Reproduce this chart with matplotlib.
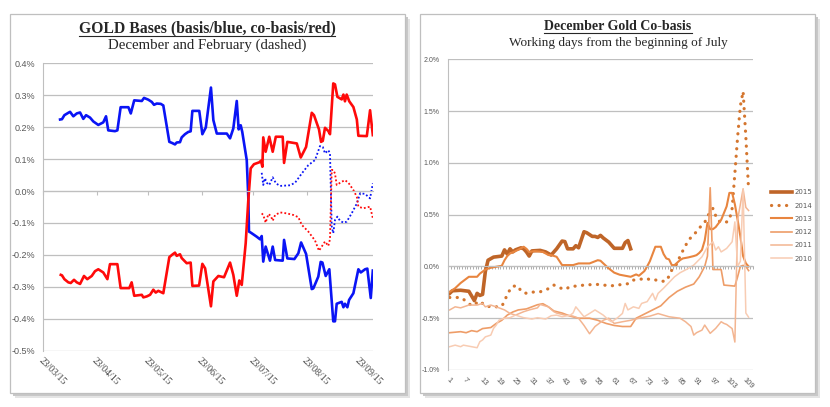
import datetime as dt
import numpy as np
import matplotlib
matplotlib.use('Agg')
import matplotlib.pyplot as plt
import matplotlib.dates as mdates
from matplotlib.ticker import FuncFormatter, MultipleLocator, FixedLocator
from matplotlib.patches import Rectangle
from matplotlib.lines import Line2D

# ---------------- left chart data (days after 23/03/15, values in %) ----------------
start = dt.date(2015, 3, 23)
tick_dates = [dt.date(2015, m, 23) for m in range(3, 10)]

dec_basis_days = [9.7, 10.8, 12.2, 14.5, 15.5, 17.4, 19.4, 21.3, 23.2, 24.8, 27.1, 29.0, 31.9, 34.8,
                  36.4, 37.7, 41.6, 43.0, 44.9, 49.4, 50.8, 52.8, 57.2, 58.5, 61.0, 63.0, 64.3, 65.9,
                  68.2, 69.7, 73.2, 74.6, 76.5, 77.5, 79.4, 80.4, 82.3, 84.2, 85.6, 86.6, 90.6, 92.4,
                  94.4, 97.4, 98.8, 100.8, 106.6, 108.5, 110.4, 112.4, 113.5, 114.7, 115.6, 118.2,
                  119.1, 119.5, 120.5, 124.0, 125.9, 126.9, 127.8, 129.2, 131.7, 133.3, 134.7, 139.1,
                  139.9, 141.8, 145.9, 148.2, 149.8, 152.7, 156.0, 156.9, 159.8, 161.2, 162.2, 164.1,
                  166.2, 168.5, 169.5, 170.5, 173.4, 174.4, 175.3, 176.7, 177.7, 180.2, 183.1, 184.5,
                  187.0, 188.3, 190.3, 191.5]
dec_basis = [0.224, 0.225, 0.2375, 0.245, 0.248, 0.234, 0.243, 0.246, 0.226, 0.2375, 0.230, 0.218,
             0.207, 0.215, 0.234, 0.19, 0.1875, 0.19, 0.2625, 0.2625, 0.243, 0.284, 0.282, 0.2916,
             0.286, 0.279, 0.27, 0.274, 0.273, 0.268, 0.154, 0.151, 0.146, 0.152, 0.153, 0.168,
             0.178, 0.185, 0.187, 0.251, 0.251, 0.178, 0.199, 0.324, 0.222, 0.180, 0.180, 0.165,
             0.196, 0.282, 0.193, 0.206, 0.185, 0.097, -0.018, -0.127, -0.13, -0.143, -0.151,
             -0.141, -0.221, -0.174, -0.218, -0.174, -0.216, -0.218, -0.153, -0.211, -0.213,
             -0.195, -0.161, -0.197, -0.307, -0.305, -0.268, -0.222, -0.224, -0.266, -0.245,
             -0.408, -0.408, -0.353, -0.347, -0.364, -0.353, -0.364, -0.341, -0.320, -0.245,
             -0.255, -0.245, -0.243, -0.335, -0.249]

dec_cobasis_days = [10.1, 10.8, 12.2, 14.5, 15.9, 17.8, 19.4, 21.3, 23.6, 25.5, 28.1, 30.0, 31.9,
                    34.8, 37.2, 38.7, 43.0, 44.9, 49.9, 51.3, 52.8, 57.2, 58.1, 60.1, 62.0, 63.9,
                    65.3, 66.8, 69.7, 73.2, 75.2, 76.5, 77.5, 79.4, 80.4, 83.3, 85.6, 86.6, 90.5,
                    92.4, 94.0, 97.4, 98.8, 101.7, 105.0, 108.5, 110.4, 112.4, 113.9, 115.3, 117.6,
                    119.1, 120.5, 122.4, 125.5, 126.5, 127.3, 127.8, 129.2, 131.3, 133.3, 135.1,
                    139.1, 139.9, 141.8, 147.3, 149.6, 152.7, 156.0, 157.3, 160.2, 161.4, 162.4,
                    163.7, 165.6, 166.6, 168.5, 169.5, 170.9, 173.4, 174.4, 175.3, 176.3, 177.8,
                    180.2, 182.2, 183.1, 188.0, 189.9, 191.5]
dec_cobasis = [-0.2625, -0.264, -0.276, -0.286, -0.288, -0.278, -0.286, -0.291, -0.266, -0.276,
               -0.266, -0.251, -0.245, -0.255, -0.276, -0.229, -0.229, -0.304, -0.304, -0.286,
               -0.328, -0.325, -0.333, -0.330, -0.325, -0.309, -0.318, -0.3125, -0.320, -0.207,
               -0.198, -0.193, -0.203, -0.198, -0.210, -0.226, -0.224, -0.297, -0.296, -0.228,
               -0.242, -0.361, -0.283, -0.266, -0.270, -0.224, -0.2625, -0.328, -0.280, -0.294,
               -0.163, -0.03, 0.071, 0.084, 0.090, 0.095, 0.076, 0.168, 0.123, 0.170, 0.123,
               0.170, 0.170, 0.088, 0.154, 0.149, 0.105, 0.138, 0.245, 0.2375, 0.193, 0.154,
               0.157, 0.198, 0.188, 0.178, 0.337, 0.334, 0.295, 0.287, 0.302, 0.281, 0.302,
               0.281, 0.263, 0.224, 0.173, 0.172, 0.253, 0.175]

feb_basis_days = [126.9, 127.8, 128.8, 129.8, 131.3, 133.3, 135.2, 137.6, 143.4, 146.3, 150.2,
                  154.0, 157.9, 160.8, 162.4, 163.7, 165.6, 166.6, 167.6, 168.5, 169.5, 170.9,
                  172.4, 174.4, 176.3, 179.2, 182.2, 184.1, 187.0, 189.9, 191.5]
feb_basis = [0.057, 0.019, 0.040, 0.026, 0.019, 0.043, 0.024, 0.016, 0.018, 0.026, 0.055, 0.081,
             0.097, 0.141, 0.138, 0.118, 0.128, 0.118, -0.111, -0.132, -0.091, -0.080, -0.093,
             -0.099, -0.096, -0.070, -0.039, -0.007, -0.009, -0.023, 0.024]

feb_cobasis_days = [126.9, 127.8, 129.2, 130.8, 132.2, 133.3, 134.7, 137.6, 141.5, 145.3, 148.2,
                    150.2, 154.0, 157.9, 160.2, 161.8, 163.7, 165.6, 166.6, 167.6, 168.5, 169.5,
                    170.5, 173.4, 175.3, 177.3, 180.2, 182.2, 183.1, 186.0, 189.9, 191.5]
feb_cobasis = [-0.070, -0.075, -0.099, -0.072, -0.078, -0.093, -0.075, -0.067, -0.070, -0.075,
               -0.082, -0.106, -0.127, -0.155, -0.187, -0.174, -0.158, -0.172, -0.151, 0.066,
               0.066, 0.055, 0.019, 0.029, 0.034, 0.026, 0.003, -0.018, -0.049, -0.054, -0.049,
               -0.085]

# ---------------- right chart data (working day, co-basis in %) ----------------
years = ['2015', '2014', '2013', '2012', '2011', '2010']
year_colors = ['#BF6528', '#D4762F', '#E8853F', '#EE9D68', '#F3B591', '#F8CCB3']

d2015 = [1, 2, 5, 8, 10, 11, 12, 13, 14, 15, 17, 20, 21, 22, 23, 24, 25, 27, 28, 29, 30, 31, 34, 36,
         38, 40, 42, 43, 44, 46, 47, 48, 50, 51, 53, 54, 55, 56, 57, 59, 61, 64, 65, 66, 67]
v2015 = [-0.26, -0.235, -0.23, -0.24, -0.33, -0.26, -0.28, -0.27, -0.05, 0.06, 0.09, 0.10, 0.16,
         0.12, 0.17, 0.14, 0.16, 0.18, 0.17, 0.14, 0.10, 0.15, 0.155, 0.14, 0.11, 0.17, 0.245,
         0.24, 0.17, 0.17, 0.20, 0.18, 0.335, 0.325, 0.29, 0.29, 0.28, 0.30, 0.275, 0.235, 0.175,
         0.175, 0.23, 0.25, 0.17]

d2014 = [1, 3, 5, 7, 9, 11, 12, 14, 16, 18, 20, 21, 22, 23, 24, 26, 27, 29, 32, 34, 37, 39, 41, 43,
         45, 48, 50, 53, 55, 57, 60, 62, 64, 66, 68, 70, 73, 74, 76, 78, 80, 81, 82, 84, 85, 87,
         88, 89, 91, 92, 94, 95, 96, 97, 98, 99, 101, 102, 103, 104, 105, 106, 107, 108, 109, 110]
v2014 = [-0.30, -0.30, -0.30, -0.335, -0.38, -0.35, -0.335, -0.38, -0.39, -0.39, -0.385, -0.335,
         -0.27, -0.225, -0.19, -0.19, -0.24, -0.26, -0.245, -0.245, -0.215, -0.18, -0.205, -0.222,
         -0.195, -0.187, -0.18, -0.175, -0.174, -0.18, -0.187, -0.18, -0.174, -0.167, -0.132,
         -0.125, -0.116, -0.13, -0.13, -0.145, -0.14, -0.093, -0.035, 0.03, 0.10, 0.20, 0.25,
         0.28, 0.335, 0.37, 0.425, 0.48, 0.53, 0.56, 0.49, 0.44, 0.42, 0.43, 0.45, 0.56, 0.9,
         1.25, 1.55, 1.69, 1.25, 0.74]

d2013 = [1, 3, 5, 7, 8, 11, 12, 13, 14, 16, 18, 20, 21, 22, 23, 25, 27, 28, 29, 30, 32, 35, 37, 38,
         40, 42, 46, 48, 52, 55, 56, 57, 59, 61, 63, 65, 67, 69, 70, 72, 73, 74, 75, 76, 78, 79,
         80, 81, 82, 83, 85, 86, 88, 90, 91, 92, 93, 94, 95, 96, 97, 98, 100, 102, 103, 104, 105,
         106, 107, 108, 109, 110]
v2013 = [-0.245, -0.21, -0.16, -0.12, -0.10, -0.10, -0.07, -0.05, -0.03, -0.013, -0.003, 0.006,
         0.06, 0.10, 0.125, 0.148, 0.175, 0.19, 0.17, 0.14, 0.148, 0.14, 0.11, 0.11, 0.093, 0.013,
         0.013, 0.029, 0.029, 0.06, 0.055, 0.03, -0.019, -0.06, -0.08, -0.09, -0.10, -0.077,
         -0.09, -0.045, 0.0, 0.05, 0.12, 0.19, 0.19, 0.12, 0.077, 0.068, 0.013, 0.013, 0.061,
         0.077, 0.087, 0.10, 0.109, 0.13, 0.16, 0.25, 0.42, 0.36, 0.36, 0.38, 0.45, 0.58, 0.71,
         0.71, 0.6, 0.45, 0.29, 0.10, 0.03, 0.0]

d2012 = [1, 5, 7, 9, 11, 13, 16, 18, 20, 22, 24, 26, 29, 31, 33, 35, 37, 39, 42, 45, 48, 52, 55,
         58, 61, 64, 67, 69, 72, 75, 78, 81, 84, 87, 90, 92, 94, 95, 96, 97, 100, 101, 105, 106,
         107, 108, 109, 110]
v2012 = [-0.64, -0.63, -0.64, -0.62, -0.63, -0.60, -0.59, -0.55, -0.52, -0.47, -0.44, -0.42,
         -0.41, -0.39, -0.37, -0.36, -0.39, -0.43, -0.45, -0.48, -0.50, -0.50, -0.52, -0.55,
         -0.57, -0.58, -0.58, -0.50, -0.46, -0.42, -0.38, -0.30, -0.24, -0.20, -0.17, -0.10,
         0.0, 0.10, 0.76, -0.03, -0.03, -0.18, -0.19, -0.10, 0.0, 0.01, 0.0, -0.04]

d2011 = [1, 3, 5, 8, 11, 13, 14, 16, 19, 21, 23, 25, 28, 30, 33, 34, 37, 39, 40, 43, 46, 48, 50,
         52, 54, 57, 59, 61, 64, 67, 70, 74, 77, 81, 85, 87, 89, 90, 91, 93, 94, 96, 98, 100, 101,
         102, 104, 105, 106, 107, 108, 109, 110]
v2011 = [-0.42, -0.39, -0.40, -0.373, -0.373, -0.357, -0.39, -0.373, -0.40, -0.42, -0.454,
         -0.47, -0.437, -0.42, -0.40, -0.367, -0.39, -0.437, -0.45, -0.47, -0.48, -0.50, -0.57,
         -0.65, -0.58, -0.52, -0.50, -0.55, -0.534, -0.52, -0.50, -0.48, -0.455, -0.486, -0.50,
         -0.534, -0.58, -0.663, -0.64, -0.615, -0.566, -0.646, -0.598, -0.534, -0.55, -0.56,
         -0.60, -0.73, 0.45, 0.60, 0.75, 0.57, 0.54]

d2010 = [1, 3, 5, 6, 9, 11, 12, 13, 14, 16, 17, 18, 19, 21, 23, 25, 28, 31, 33, 36, 38, 40, 42, 45,
         46, 47, 50, 52, 54, 57, 59, 60, 62, 64, 65, 66, 68, 70, 71, 73, 75, 76, 77, 79, 83, 85,
         88, 90, 93, 95, 97, 98, 99, 100, 102, 104, 105, 106, 107, 108, 109, 110]
v2010 = [-0.775, -0.76, -0.775, -0.76, -0.775, -0.785, -0.727, -0.71, -0.68, -0.663, -0.598,
         -0.566, -0.518, -0.50, -0.495, -0.47, -0.495, -0.508, -0.495, -0.508, -0.476, -0.47,
         -0.486, -0.47, -0.45, -0.39, -0.486, -0.454, -0.42, -0.47, -0.518, -0.534, -0.50,
         -0.454, -0.357, -0.42, -0.39, -0.405, -0.357, -0.34, -0.26, -0.325, -0.26, -0.21, -0.10,
         -0.061, -0.02, 0.013, 0.093, 0.19, 0.238, 0.158, 0.19, 0.14, 0.174, 0.238, 0.43, 0.0,
         0.05, 0.74, -0.45, -0.49]

right_days = [d2015, d2014, d2013, d2012, d2011, d2010]
right_vals = [v2015, v2014, v2013, v2012, v2011, v2010]
n_days = 111
day_labels = list(range(1, 110, 6))

W, H = 830, 407
fig = plt.figure(figsize=(W / 100, H / 100), dpi=100)
fig.patch.set_facecolor('white')

def px_box(x0, y0, x1, y1):
    return (x0 / W, 1 - y1 / H, (x1 - x0) / W, (y1 - y0) / H)

# panel frames with shadow (drawn under the axes)
for (x0, y0, x1, y1) in [(10, 14, 405, 393), (420, 14, 815, 393)]:
    for off, col in [(5, '#E4E4E4'), (3, '#C8C8C8')]:
        bx = px_box(x0 + off, y0 + off, x1 + off, y1 + off)
        fig.patches.append(Rectangle(bx[:2], bx[2], bx[3], transform=fig.transFigure,
                                     facecolor=col, edgecolor='none', zorder=-3))
    bx = px_box(x0, y0, x1, y1)
    fig.patches.append(Rectangle(bx[:2], bx[2], bx[3], transform=fig.transFigure,
                                 facecolor='white', edgecolor='#BFBFBF', lw=0.9, zorder=-2))

serif = 'Liberation Serif'
sans = 'Liberation Sans'
grid_col = '#BFBFBF'
lab_col = '#595959'

# ---------------- left chart ----------------
ax = fig.add_axes(px_box(43.4, 63.3, 373, 350.7))
ax.patch.set_alpha(0)
x0 = mdates.date2num(start)
ax.plot(x0 + np.array(dec_basis_days), dec_basis, color='#0A14F5', lw=1.9, solid_joinstyle='round')
ax.plot(x0 + np.array(dec_cobasis_days), dec_cobasis, color='#FF0A0A', lw=1.9, solid_joinstyle='round')
ax.plot(x0 + np.array(feb_basis_days), feb_basis, color='#0A14F5', lw=1.3, ls=(0, (1, 1.2)))
ax.plot(x0 + np.array(feb_cobasis_days), feb_cobasis, color='#FF0A0A', lw=1.3, ls=(0, (1, 1.2)))

ax.set_ylim(-0.5, 0.4)
ax.set_xlim(x0, x0 + 191.6)
ax.yaxis.set_major_locator(MultipleLocator(0.1))
ax.yaxis.set_major_formatter(FuncFormatter(lambda v, p: f'{v:.1f}%'))
ax.grid(axis='y', color=grid_col, lw=0.9)
ax.set_axisbelow(True)
for s in ['top', 'right']:
    ax.spines[s].set_visible(False)
ax.spines['left'].set_color(grid_col)
ax.spines['bottom'].set_position(('data', 0))
ax.spines['bottom'].set_color(grid_col)
tick_nums = [mdates.date2num(d) for d in tick_dates]
ax.xaxis.set_major_locator(FixedLocator(tick_nums))
ax.tick_params(axis='x', length=3, color=grid_col, labelbottom=False)
ax.tick_params(axis='y', length=0, pad=6, labelsize=6.5, labelcolor=lab_col)
for t in ax.get_yticklabels():
    t.set_family(sans)
for tn, d in zip(tick_nums, tick_dates):
    ax.text(tn, -0.02, d.strftime('%d/%m/%y'), transform=ax.get_xaxis_transform(),
            rotation=-45, rotation_mode='anchor', ha='left', va='top',
            fontsize=7, family=serif, color='#404040')

# ---------------- right chart ----------------
ax2 = fig.add_axes(px_box(448.3, 59.3, 752.7, 370))
ax2.patch.set_alpha(0)
widths = [2.6, 2.3, 1.5, 1.2, 1.1, 1.1]
for yr, dd, vv, col, lw in zip(years, right_days, right_vals, year_colors, widths):
    if yr == '2014':
        ax2.plot(dd, vv, color=col, lw=lw, ls=(0, (0.05, 2.3)), dash_capstyle='round', label=yr)
    else:
        ax2.plot(dd, vv, color=col, lw=lw, label=yr, solid_joinstyle='round')
ax2.set_xlim(0.5, n_days + 0.5)
ax2.set_ylim(-1.0, 2.0)
ax2.yaxis.set_major_locator(MultipleLocator(0.5))
ax2.yaxis.set_major_formatter(FuncFormatter(lambda v, p: f'{v:.1f}%'))
ax2.grid(axis='y', color=grid_col, lw=0.9)
ax2.set_axisbelow(True)
for s in ['top', 'right']:
    ax2.spines[s].set_visible(False)
ax2.spines['left'].set_color(grid_col)
ax2.spines['bottom'].set_position(('data', 0))
ax2.spines['bottom'].set_color(grid_col)
ax2.xaxis.set_major_locator(FixedLocator(np.arange(0.5, n_days + 1, 1)))
ax2.tick_params(axis='x', length=2.2, width=0.6, color='#A0A0A0', labelbottom=False)
ax2.tick_params(axis='y', length=0, pad=6, labelsize=5, labelcolor=lab_col)
for t in ax2.get_yticklabels():
    t.set_family(sans)
for d in day_labels:
    ax2.text(d, -0.02, str(d), transform=ax2.get_xaxis_transform(),
             rotation=-45, rotation_mode='anchor', ha='left', va='top',
             fontsize=5.5, family=sans, color=lab_col)
ax2.legend(loc='center left', bbox_to_anchor=(1.04, 0.465), frameon=False, fontsize=5,
           handlelength=3.0, labelspacing=1.05, handletextpad=0.3, labelcolor=lab_col)

# ---------------- titles ----------------
titles = [
    (207 / W, 1 - 28 / H, 'GOLD Bases (basis/blue, co-basis/red)', 11.3, 'bold', True),
    (207 / W, 1 - 45 / H, 'December and February (dashed)', 10.7, 'normal', False),
    (618 / W, 1 - 27 / H, 'December Gold Co-basis', 10, 'bold', True),
    (618 / W, 1 - 43 / H, 'Working days from the beginning of July', 9.5, 'normal', False),
]
texts = []
for x, y, s, fs, fw, ul in titles:
    t = fig.text(x, y, s, ha='center', va='center', fontsize=fs, fontweight=fw,
                 family=serif, color='#262626')
    texts.append((t, ul))

fig.canvas.draw()
r = fig.canvas.get_renderer()
for t, ul in texts:
    if ul:
        bb = t.get_window_extent(r)
        yline = (bb.y0 + 0.5) / H
        fig.lines.append(Line2D([bb.x0 / W, bb.x1 / W], [yline, yline], transform=fig.transFigure,
                                color='#262626', lw=0.8))

fig.savefig('out.png', dpi=100)
